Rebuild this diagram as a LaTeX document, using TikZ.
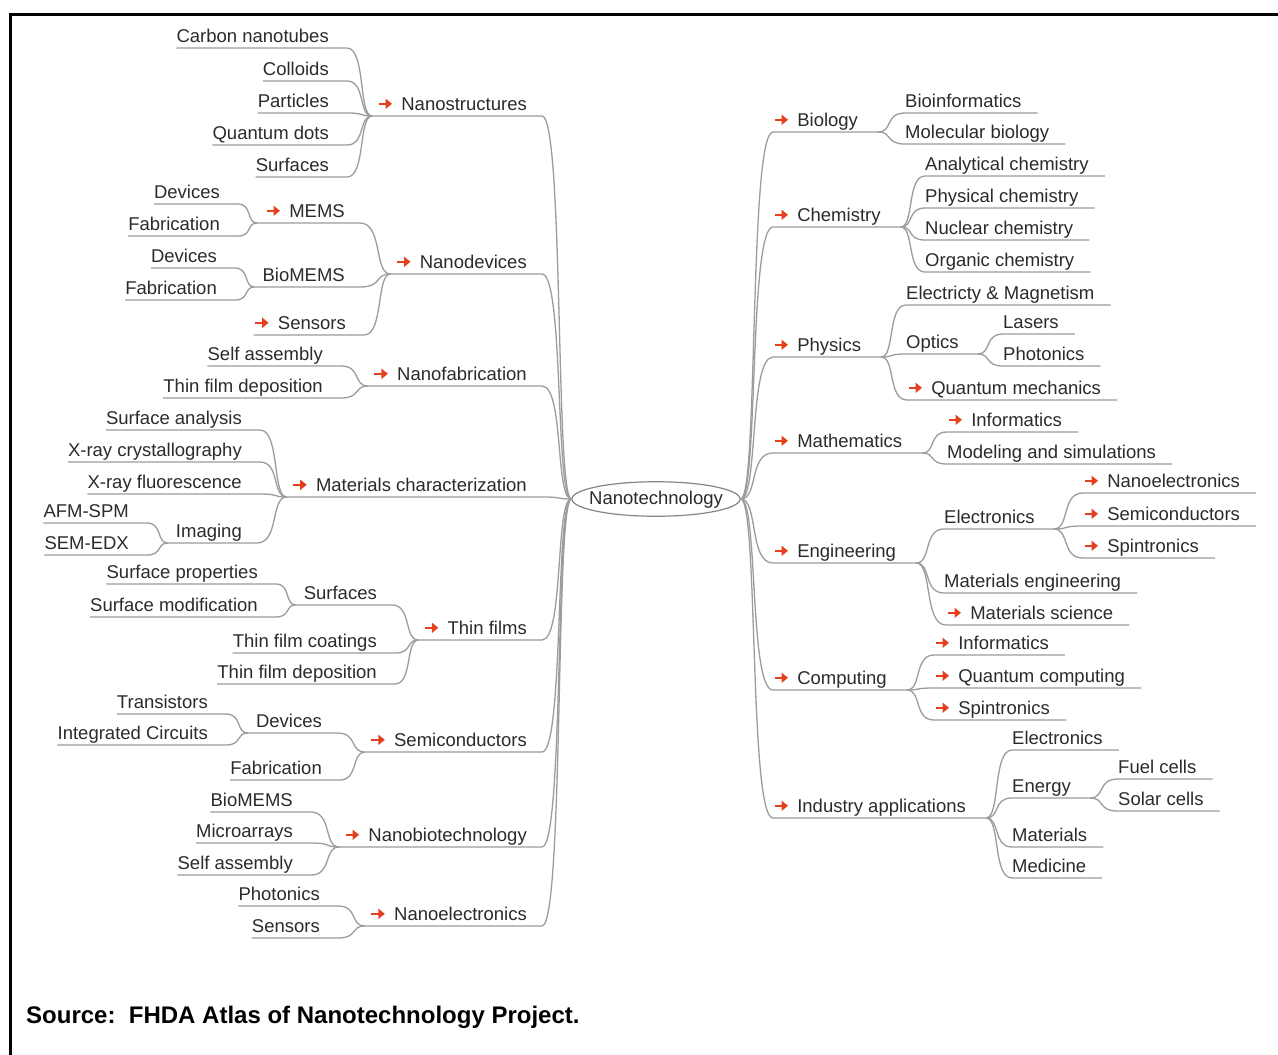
\documentclass[tikz,border=0pt]{standalone}
\usepackage{fontspec}
\setmainfont{Liberation Sans}
\usetikzlibrary{calc,shapes.geometric,arrows.meta}
\definecolor{txt}{HTML}{2B2B2B}
\definecolor{lin}{HTML}{9C9C9C}
\definecolor{ellc}{HTML}{858585}
\definecolor{arrowred}{HTML}{E5401E}
\newcommand\arr{\tikz[baseline=0pt]\draw[arrowred,line width=2.6pt,-{Triangle[length=6.5pt,width=10pt]}](0pt,6.5pt)--(13.5pt,6.5pt);\hspace{8pt}}
\begin{document}
\begin{tikzpicture}[x=1pt,y=-1pt,
  lbl/.style={font=\fontsize{18.5}{22}\selectfont, text=txt, inner xsep=0pt, inner ysep=0pt, text height=13.5pt, text depth=5.5pt},
  lnode/.style={lbl, anchor=south east},
  rnode/.style={lbl, anchor=south west},
  ln/.style={draw=lin, line width=1.3pt},
  lc/.style={to path={let \p1=(\tikztostart),\p2=(\tikztotarget),\n1={\x2-\x1} in .. controls ({\x2-0.25*\n1},\y1) and ({\x2-0.55*\n1},\y2) .. (\tikztotarget)}},
  rc/.style={to path={let \p1=(\tikztostart),\p2=(\tikztotarget),\n1={\x2-\x1} in .. controls ({\x1+0.55*\n1},\y1) and ({\x1+0.25*\n1},\y2) .. (\tikztotarget)}}
]
\useasboundingbox (0,0) rectangle (1278,1055);
\fill[white] (0,0) rectangle (1278,1055);
\draw[line width=3pt] (10.5,1056) -- (10.5,14) -- (1279,14);

% centre
\node[lbl, draw=ellc, line width=1.2pt, ellipse, inner xsep=-7.4pt, inner ysep=3.7pt, text depth=3.5pt] (c) at (656,499) {Nanotechnology};

% ---------- left side ----------
\node[lnode] (ns) at (527,116) {\arr Nanostructures};
\node[lnode] (nd) at (527,274) {\arr Nanodevices};
\node[lnode] (nf) at (527,386) {\arr Nanofabrication};
\node[lnode] (mc) at (527,497) {\arr Materials characterization};
\node[lnode] (tf) at (527,640) {\arr Thin films};
\node[lnode] (sc) at (527,752) {\arr Semiconductors};
\node[lnode] (nb) at (527,847) {\arr Nanobiotechnology};
\node[lnode] (ne) at (527,926) {\arr Nanoelectronics};

\node[lnode] (cnt) at (329,48) {Carbon nanotubes};
\node[lnode] (col) at (329,81) {Colloids};
\node[lnode] (par) at (329,113) {Particles};
\node[lnode] (qd) at (329,145) {Quantum dots};
\node[lnode] (srf) at (329,177) {Surfaces};

\node[lnode] (mems) at (345,223) {\arr MEMS};
\node[lnode] (bio) at (345,287) {BioMEMS};
\node[lnode] (sen) at (346,335) {\arr Sensors};
\node[lnode] (md1) at (220,204) {Devices};
\node[lnode] (mf1) at (220,236) {Fabrication};
\node[lnode] (md2) at (217,268) {Devices};
\node[lnode] (mf2) at (217,300) {Fabrication};

\node[lnode] (sa1) at (323,366) {Self assembly};
\node[lnode] (tfd1) at (323,398) {Thin film deposition};

\node[lnode] (sa) at (242,430) {Surface analysis};
\node[lnode] (xc) at (242,462) {X-ray crystallography};
\node[lnode] (xf) at (242,494) {X-ray fluorescence};
\node[lnode] (img) at (242,543) {Imaging};
\node[lnode] (afm) at (129,523) {AFM-SPM};
\node[lnode] (sem) at (129,555) {SEM-EDX};

\node[lnode] (srf2) at (377,605) {Surfaces};
\node[lnode] (sp) at (258,584) {Surface properties};
\node[lnode] (sm) at (258,617) {Surface modification};
\node[lnode] (tfc) at (377,653) {Thin film coatings};
\node[lnode] (tfd2) at (377,684) {Thin film deposition};

\node[lnode] (dev) at (322,733) {Devices};
\node[lnode] (tr) at (208,714) {Transistors};
\node[lnode] (ic) at (208,745) {Integrated Circuits};
\node[lnode] (fab) at (322,780) {Fabrication};

\node[lnode] (bm) at (293,812) {BioMEMS};
\node[lnode] (ma) at (293,843) {Microarrays};
\node[lnode] (sa2) at (293,875) {Self assembly};

\node[lnode] (ph) at (320,906) {Photonics};
\node[lnode] (sn) at (320,938) {Sensors};

\foreach \a in {ns,nd,nf,mc,tf,sc,nb,ne}{
  \coordinate (\a-j) at ($(\a.south west)+(-5,0)$);
  \draw[ln] (\a-j) -- ($(\a.south east)+(15,0)$) to[lc] (c.west);}
\foreach \a/\b in {mems/nd,bio/nd,img/mc,srf2/tf,dev/sc}{
  \coordinate (\a-j) at ($(\a.south west)+(-8,0)$);
  \draw[ln] (\a-j) -- ($(\a.south east)+(15,0)$) to[lc] (\b-j);}
\foreach \a/\b in {cnt/ns,col/ns,par/ns,qd/ns,srf/ns,md1/mems,mf1/mems,md2/bio,mf2/bio,sen/nd,
  sa1/nf,tfd1/nf,sa/mc,xc/mc,xf/mc,afm/img,sem/img,sp/srf2,sm/srf2,tfc/tf,tfd2/tf,
  tr/dev,ic/dev,fab/sc,bm/nb,ma/nb,sa2/nb,ph/ne,sn/ne}{
  \draw[ln] (\a.south west) -- ($(\a.south east)+(18,0)$) to[lc] (\b-j);}

% ---------- right side ----------
\node[rnode] (bi) at (773,132) {\arr Biology};
\node[rnode] (ch) at (773,227) {\arr Chemistry};
\node[rnode] (phy) at (773,357) {\arr Physics};
\node[rnode] (mat1) at (773,453) {\arr Mathematics};
\node[rnode] (en) at (773,563) {\arr Engineering};
\node[rnode] (co) at (773,690) {\arr Computing};
\node[rnode] (ia) at (773,818) {\arr Industry applications};

\node[rnode] (binf) at (905,113) {Bioinformatics};
\node[rnode] (mb) at (905,144) {Molecular biology};
\node[rnode] (ac) at (925,176) {Analytical chemistry};
\node[rnode] (pc) at (925,208) {Physical chemistry};
\node[rnode] (nc) at (925,240) {Nuclear chemistry};
\node[rnode] (oc) at (925,272) {Organic chemistry};
\node[rnode] (em) at (906,305) {Electricty \& Magnetism};
\node[rnode] (opt) at (906,354) {Optics};
\node[rnode] (las) at (1003,334) {Lasers};
\node[rnode] (pho) at (1003,366) {Photonics};
\node[rnode] (qm) at (907,400) {\arr Quantum mechanics};
\node[rnode] (inf) at (947,432) {\arr Informatics};
\node[rnode] (mod) at (947,464) {Modeling and simulations};
\node[rnode] (el) at (944,529) {Electronics};
\node[rnode] (nel) at (1083,493) {\arr Nanoelectronics};
\node[rnode] (sem2) at (1083,526) {\arr Semiconductors};
\node[rnode] (spi) at (1083,558) {\arr Spintronics};
\node[rnode] (me) at (944,593) {Materials engineering};
\node[rnode] (ms) at (946,625) {\arr Materials science};
\node[rnode] (inf2) at (934,655) {\arr Informatics};
\node[rnode] (qc) at (934,688) {\arr Quantum computing};
\node[rnode] (spi2) at (934,720) {\arr Spintronics};
\node[rnode] (el2) at (1012,750) {Electronics};
\node[rnode] (eng) at (1012,798) {Energy};
\node[rnode] (fc) at (1118,779) {Fuel cells};
\node[rnode] (scl) at (1118,811) {Solar cells};
\node[rnode] (mat) at (1012,847) {Materials};
\node[rnode] (med) at (1012,878) {Medicine};

\foreach \a in {bi,ch,phy,mat1,en,co,ia}{
  \coordinate (\a-j) at ($(\a.south east)+(20,0)$);
  \draw[ln] (c.east) to[rc] (\a.south west) -- (\a-j);}
\foreach \a/\b in {opt/phy,el/en,eng/ia}{
  \coordinate (\a-j) at ($(\a.south east)+(19,0)$);
  \draw[ln] (\b-j) to[rc] (\a.south west) -- (\a-j);}
\foreach \a/\b in {binf/bi,mb/bi,ac/ch,pc/ch,nc/ch,oc/ch,em/phy,qm/phy,las/opt,pho/opt,
  inf/mat1,mod/mat1,nel/el,sem2/el,spi/el,me/en,ms/en,inf2/co,qc/co,spi2/co,
  el2/ia,mat/ia,med/ia,fc/eng,scl/eng}{
  \draw[ln] (\b-j) to[rc] (\a.south west) -- ($(\a.south east)+(16,0)$);}

% source line
\node[anchor=base west, inner sep=0pt, font=\bfseries\fontsize{24}{28}\selectfont] (src) at (26,1023) {Source:\ \ FHDA Atlas of Nanotechnology Project.};
\end{tikzpicture}
\end{document}
